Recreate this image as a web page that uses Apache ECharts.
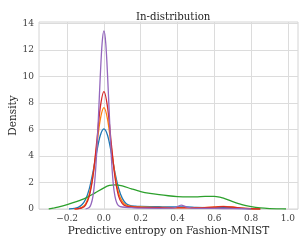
<!DOCTYPE html>
<html><head><meta charset="utf-8">
<script src="https://cdn.jsdelivr.net/npm/echarts@6/dist/echarts.min.js"></script>
<style>html,body{margin:0;padding:0;background:#fff}#c{width:307px;height:246px}</style>
</head><body><div id="c"></div>
<script>
const xTicks = [-0.2, 0.0, 0.2, 0.4, 0.6, 0.8, 1.0];
const yTicks = [0, 2, 4, 6, 8, 10, 12, 14];

const blueX  = [-0.19,-0.16,-0.14,-0.12,-0.10,-0.08,-0.06,-0.04,-0.02,0.0,0.02,0.04,0.06,0.08,0.10,0.12,0.14,0.17,0.20,0.30,0.40,0.45,0.50,0.60,0.65,0.70,0.75,0.80,0.85];
const blueY  = [0,0.04,0.12,0.32,0.72,1.5,2.75,4.25,5.55,6.05,5.55,4.25,2.75,1.55,0.8,0.42,0.28,0.22,0.2,0.17,0.15,0.16,0.12,0.1,0.12,0.1,0.05,0.02,0];

const orangeX = [-0.16,-0.14,-0.12,-0.10,-0.08,-0.06,-0.04,-0.02,0.0,0.02,0.04,0.06,0.08,0.10,0.12,0.15,0.20,0.30,0.40,0.50,0.60,0.65,0.70,0.75,0.80,0.85];
const orangeY = [0,0.03,0.12,0.38,1.1,2.5,4.64,6.75,7.65,6.75,4.7,2.6,1.2,0.55,0.3,0.2,0.15,0.12,0.1,0.1,0.15,0.2,0.15,0.06,0.02,0];

const greenX = [-0.30,-0.27,-0.25,-0.20,-0.15,-0.10,-0.05,0.0,0.03,0.06,0.10,0.15,0.20,0.25,0.30,0.35,0.40,0.45,0.50,0.55,0.60,0.63,0.65,0.70,0.75,0.80,0.85,0.90,0.95,0.99];
const greenY = [0,0.08,0.14,0.33,0.55,0.82,1.2,1.6,1.78,1.82,1.74,1.52,1.32,1.18,1.08,1.0,0.94,0.91,0.92,0.95,0.96,0.9,0.82,0.56,0.33,0.18,0.08,0.03,0.01,0];

const redX = [-0.16,-0.14,-0.12,-0.10,-0.08,-0.06,-0.04,-0.02,0.0,0.02,0.04,0.06,0.08,0.10,0.12,0.15,0.20,0.30,0.40,0.50,0.60,0.65,0.70,0.75,0.80,0.85];
const redY = [0,0.02,0.08,0.3,0.95,2.45,4.95,7.65,8.86,7.65,4.95,2.4,0.95,0.4,0.22,0.15,0.12,0.1,0.08,0.08,0.14,0.18,0.14,0.06,0.02,0];

const purpleX = [-0.10,-0.08,-0.07,-0.06,-0.05,-0.04,-0.03,-0.02,-0.01,0.0,0.01,0.02,0.03,0.04,0.05,0.06,0.07,0.08,0.10,0.15,0.20,0.30,0.38,0.42,0.45,0.50,0.60,0.70,0.80];
const purpleY = [0,0.12,0.36,0.94,2.1,4.1,6.9,10.0,12.5,13.45,12.5,10.0,6.9,4.0,2.0,0.95,0.45,0.25,0.15,0.1,0.06,0.05,0.08,0.3,0.15,0.05,0.04,0.03,0];

const seriesDefs = [
  ['blue', blueX, blueY, '#1f77b4'],
  ['orange', orangeX, orangeY, '#ff7f0e'],
  ['green', greenX, greenY, '#2ca02c'],
  ['red', redX, redY, '#d62728'],
  ['purple', purpleX, purpleY, '#9467bd']
];

const font = '"DejaVu Serif", serif';
const chart = echarts.init(document.getElementById('c'), null, {renderer: 'canvas'});
chart.setOption({
  animation: false,
  backgroundColor: '#fff',
  title: {text: 'In-distribution', left: 131, top: 7,
    textStyle: {fontFamily: font, fontSize: 10.2, fontWeight: 'normal', color: '#262626'}},
  grid: {left: 39, right: 9, top: 22, bottom: 37, show: true, borderColor: '#d4d4d4', borderWidth: 1,
    containLabel: false, outerBoundsMode: 'none'},
  xAxis: {
    type: 'value', min: -0.353, max: 1.055,
    name: 'Predictive entropy on Fashion-MNIST', nameLocation: 'middle', nameGap: 17, nameMoveOverlap: false,
    nameTextStyle: {fontFamily: font, fontSize: 10.5, color: '#262626'},
    axisLine: {show: false}, axisTick: {show: false, customValues: xTicks},
    axisLabel: {customValues: xTicks, fontFamily: font, fontSize: 9, color: '#404040', margin: 5,
      formatter: v => (v < 0 ? '\u2212' + (-v).toFixed(1) : v.toFixed(1))},
    splitLine: {show: true, lineStyle: {color: '#dcdcdc', width: 1}}
  },
  yAxis: {
    type: 'value', min: 0, max: 14.12,
    name: 'Density', nameLocation: 'middle', nameGap: 20, nameMoveOverlap: false,
    nameTextStyle: {fontFamily: font, fontSize: 10.5, color: '#262626'},
    axisLine: {show: false}, axisTick: {show: false, customValues: yTicks},
    axisLabel: {customValues: yTicks, fontFamily: font, fontSize: 9, color: '#404040', margin: 5,
      formatter: v => String(Math.round(v))},
    splitLine: {show: true, lineStyle: {color: '#dcdcdc', width: 1}}
  },
  series: seriesDefs.map(([n, xs, ys, c]) => ({
    name: n, type: 'line', smooth: 0.3, showSymbol: false, symbol: 'none',
    data: xs.map((x, i) => [x, ys[i]]),
    lineStyle: {color: c, width: 1.3}, itemStyle: {color: c}
  }))
});
</script></body></html>
